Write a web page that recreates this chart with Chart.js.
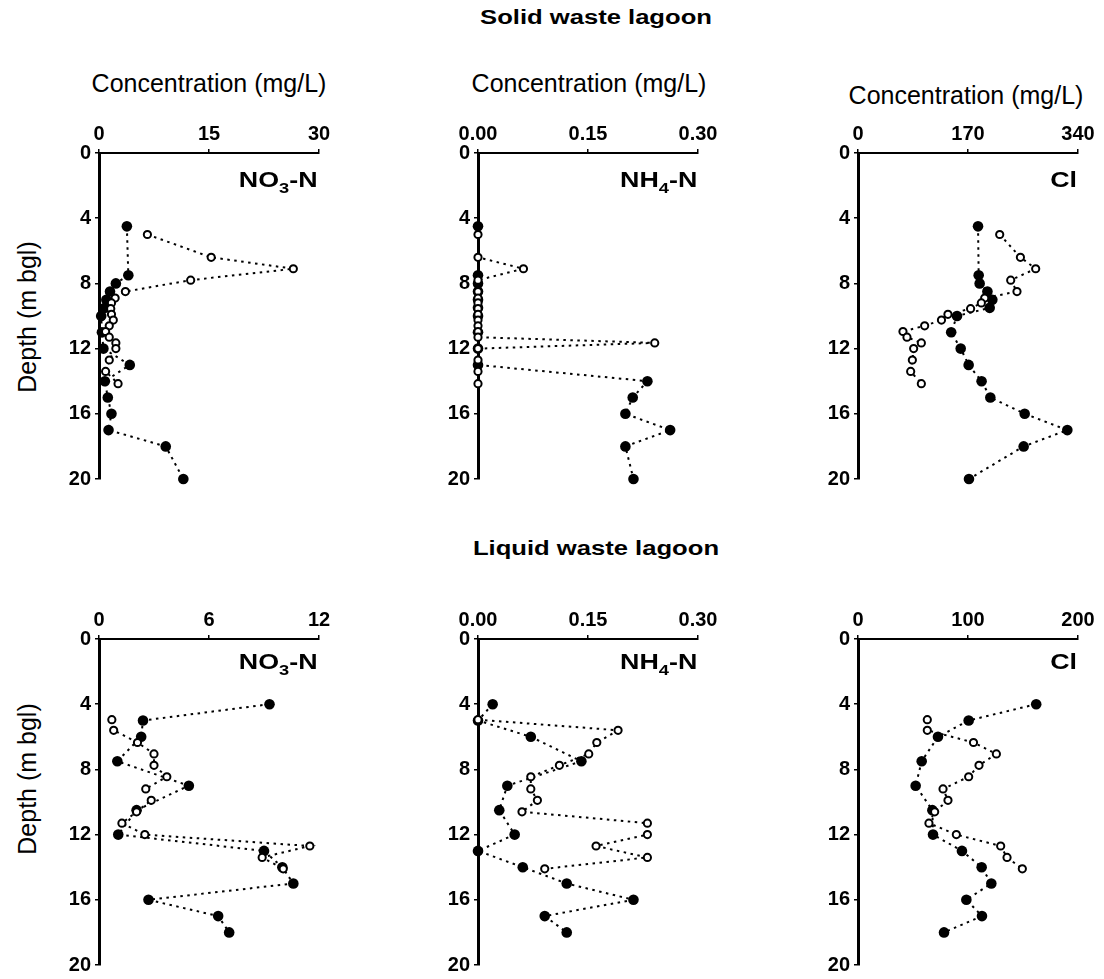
<!DOCTYPE html>
<html>
<head>
<meta charset="utf-8">
<title>Lagoon profiles</title>
<script src="https://cdn.jsdelivr.net/npm/chart.js@4.4.0/dist/chart.umd.min.js"></script>
<style>
  body { margin: 0; background: #fff; font-family: 'Liberation Sans', Arial, sans-serif; }
  #page { position: relative; width: 1104px; height: 979px; overflow: hidden; background: #fff; }
  canvas { position: absolute; }
  .lbl { position: absolute; white-space: nowrap; color: #000; line-height: 1; }
  .group { font-weight: bold; font-size: 20px; transform: translate(-50%, -50%) scaleX(1.28); }
  .conc { font-size: 25px; transform: translateX(-50%); }
  .depth { font-size: 25px; transform: translate(-50%, -50%) rotate(-90deg); }
  .species { font-weight: bold; font-size: 22px; transform: scaleX(1.22); transform-origin: right top; }
  .species sub { font-size: 15px; vertical-align: baseline; position: relative; top: 6px; }
</style>
</head>
<body>
<div id="page">
  <div class="lbl group" style="left:596px; top:17px;">Solid waste lagoon</div>
  <div class="lbl group" style="left:596px; top:548px;">Liquid waste lagoon</div>

  <div class="lbl conc" style="left:209px; top:71px;">Concentration (mg/L)</div>
  <div class="lbl conc" style="left:589px; top:71px;">Concentration (mg/L)</div>
  <div class="lbl conc" style="left:966px; top:83px;">Concentration (mg/L)</div>

  <div class="lbl depth" style="left:27px; top:317px;">Depth (m bgl)</div>
  <div class="lbl depth" style="left:27px; top:779px;">Depth (m bgl)</div>

  <canvas id="c1" width="305" height="392"></canvas>
  <canvas id="c2" width="305" height="392"></canvas>
  <canvas id="c3" width="305" height="392"></canvas>
  <canvas id="c4" width="305" height="392"></canvas>
  <canvas id="c5" width="305" height="392"></canvas>
  <canvas id="c6" width="305" height="392"></canvas>

  <div class="lbl species" style="right:786px; top:169px;">NO<sub>3</sub>-N</div>
  <div class="lbl species" style="right:407px; top:169px;">NH<sub>4</sub>-N</div>
  <div class="lbl species" style="right:27px; top:169px;">Cl</div>
  <div class="lbl species" style="right:786px; top:651px;">NO<sub>3</sub>-N</div>
  <div class="lbl species" style="right:407px; top:651px;">NH<sub>4</sub>-N</div>
  <div class="lbl species" style="right:27px; top:651px;">Cl</div>
</div>

<script>
// depths (m below ground level) of the two sampling profiles
var solidFilledDepth = [4.5, 7.5, 8.0, 8.5, 9.0, 9.5, 10.0, 11.0, 12.0, 13.0, 14.0, 15.0, 16.0, 17.0, 18.0, 20.0];
var solidOpenDepth = [5.0, 6.4, 7.1, 7.8, 8.5, 8.9, 9.2, 9.55, 9.9, 10.25, 10.6, 10.95, 11.3, 11.65, 12.0, 12.7, 13.4, 14.15];
var liquidFilledDepth = [4, 5, 6, 7.5, 9, 10.5, 12, 13, 14, 15, 16, 17, 18];
var liquidOpenDepth = [4.95, 5.6, 6.35, 7.05, 7.75, 8.45, 9.2, 9.9, 10.6, 11.3, 12.0, 12.7, 13.4, 14.1];

// solid waste lagoon (mg/L)
var no3SolidFilled = [3.8, 4.0, 2.3, 1.5, 1.0, 0.8, 0.3, 0.4, 0.6, 4.2, 0.8, 1.2, 1.7, 1.3, 9.1, 11.5];
var no3SolidOpen = [6.6, 15.3, 26.5, 12.5, 3.6, 2.2, 1.7, 1.6, 1.7, 1.95, 1.4, 0.9, 1.4, 2.3, 2.3, 1.4, 0.9, 2.6];
var nh4SolidFilled = [0, 0, 0, 0, 0, 0, 0, 0, 0, 0, 0.231, 0.211, 0.201, 0.262, 0.201, 0.212];
var nh4SolidOpen = [0, 0, 0.062, 0, 0, 0, 0, 0, 0, 0, 0, 0, 0, 0.241, 0, 0, 0, 0];
var clSolidFilled = [185.5, 186.5, 188, 200, 207.6, 203.5, 153, 144, 158.7, 171, 191, 204.5, 257.6, 323.5, 256, 171.5];
var clSolidOpen = [219, 251, 274.6, 236, 245.7, 195.8, 190.6, 174, 139, 129, 103, 69.5, 75.7, 97.9, 86, 84, 81.4, 97.9];

// liquid waste lagoon (mg/L)
var no3LiquidFilled = [9.3, 2.4, 2.3, 1.0, 4.9, 2.05, 1.05, 9.0, 10.0, 10.6, 2.7, 6.5, 7.1];
var no3LiquidOpen = [0.7, 0.8, 2.1, 3.0, 3.0, 3.7, 2.55, 2.85, 2.05, 1.25, 2.5, 11.5, 8.9, 10.05];
var nh4LiquidFilled = [0.020, 0, 0.072, 0.141, 0.040, 0.029, 0.050, 0, 0.061, 0.121, 0.212, 0.091, 0.121];
var nh4LiquidOpen = [0, 0.191, 0.162, 0.151, 0.111, 0.072, 0.072, 0.081, 0.060, 0.231, 0.231, 0.161, 0.231, 0.091];
var clLiquidFilled = [162, 100.6, 72.7, 57.9, 52.4, 67.6, 68.2, 94.5, 112.4, 121.2, 98.5, 112.7, 78.2];
var clLiquidOpen = [63, 63, 105, 125.8, 110, 100.6, 77.3, 81.8, 69.7, 64.5, 89.4, 129.7, 135.5, 149.4];

// tick values
var depthTicks = [0, 4, 8, 12, 16, 20];
var no3SolidTicks = [0, 15, 30];
var nh4Ticks = [0, 0.15, 0.30];
var clSolidTicks = [0, 170, 340];
var no3LiquidTicks = [0, 6, 12];
var clLiquidTicks = [0, 100, 200];

Chart.defaults.font.family = "'Liberation Sans', Arial, sans-serif";
Chart.defaults.color = '#000';

function pairs(xs, depths) {
	return xs.map(function(v, i) { return { x: v, y: depths[i] }; });
}

function makePanel(id, left, top, opts) {
	var canvas = document.getElementById(id);
	canvas.style.left = (left - 60) + 'px';
	canvas.style.top = (top - 50) + 'px';

	var config = {
		type: 'scatter',
		data: {
			datasets: [{
				label: 'open',
				data: pairs(opts.open, opts.openDepth),
				showLine: true,
				borderColor: '#000',
				borderWidth: 2,
				borderDash: [2.5, 4.5],
				pointRadius: 3.6,
				pointBackgroundColor: '#fff',
				pointBorderColor: '#000',
				pointBorderWidth: 2,
				clip: false
			}, {
				label: 'filled',
				data: pairs(opts.filled, opts.filledDepth),
				showLine: true,
				borderColor: '#000',
				borderWidth: 2,
				borderDash: [2.5, 4.5],
				pointRadius: 5.3,
				pointBackgroundColor: '#000',
				pointBorderColor: '#000',
				pointBorderWidth: 0,
				clip: false
			}]
		},
		options: {
			responsive: false,
			animation: false,
			devicePixelRatio: 1,
			layout: { padding: { left: 0, top: 0, right: 25, bottom: 15 } },
			plugins: { legend: { display: false }, tooltip: { enabled: false } },
			scales: {
				x: {
					type: 'linear',
					position: 'top',
					min: 0,
					max: opts.ticks[opts.ticks.length - 1],
					afterBuildTicks: function(scale) {
						scale.ticks = opts.ticks.map(function(v) { return { value: v }; });
					},
					afterFit: function(scale) { scale.height = 50; },
					ticks: {
						font: { size: 20, weight: 'bold' },
						padding: 3,
						maxRotation: 0,
						callback: function(v) { return v.toFixed(opts.decimals); }
					},
					grid: { drawOnChartArea: false, drawTicks: true, tickLength: 4, color: '#000', lineWidth: 1.5 },
					border: { display: true, color: '#000', width: 2 }
				},
				y: {
					type: 'linear',
					reverse: true,
					min: 0,
					max: 20,
					afterBuildTicks: function(scale) {
						scale.ticks = depthTicks.map(function(v) { return { value: v }; });
					},
					afterFit: function(scale) { scale.width = 60; },
					ticks: { font: { size: 20, weight: 'bold' }, padding: 4 },
					grid: { drawOnChartArea: false, drawTicks: true, tickLength: 4, color: '#000', lineWidth: 1.5 },
					border: { display: true, color: '#000', width: 3 }
				}
			}
		}
	};
	return new Chart(canvas.getContext('2d'), config);
}

window.onload = function() {
	makePanel('c1', 99, 153, { filled: no3SolidFilled, filledDepth: solidFilledDepth, open: no3SolidOpen, openDepth: solidOpenDepth, ticks: no3SolidTicks, decimals: 0 });
	makePanel('c2', 478, 153, { filled: nh4SolidFilled, filledDepth: solidFilledDepth, open: nh4SolidOpen, openDepth: solidOpenDepth, ticks: nh4Ticks, decimals: 2 });
	makePanel('c3', 858, 153, { filled: clSolidFilled, filledDepth: solidFilledDepth, open: clSolidOpen, openDepth: solidOpenDepth, ticks: clSolidTicks, decimals: 0 });
	makePanel('c4', 99, 639, { filled: no3LiquidFilled, filledDepth: liquidFilledDepth, open: no3LiquidOpen, openDepth: liquidOpenDepth, ticks: no3LiquidTicks, decimals: 0 });
	makePanel('c5', 478, 639, { filled: nh4LiquidFilled, filledDepth: liquidFilledDepth, open: nh4LiquidOpen, openDepth: liquidOpenDepth, ticks: nh4Ticks, decimals: 2 });
	makePanel('c6', 858, 639, { filled: clLiquidFilled, filledDepth: liquidFilledDepth, open: clLiquidOpen, openDepth: liquidOpenDepth, ticks: clLiquidTicks, decimals: 0 });
};
</script>
</body>
</html>
